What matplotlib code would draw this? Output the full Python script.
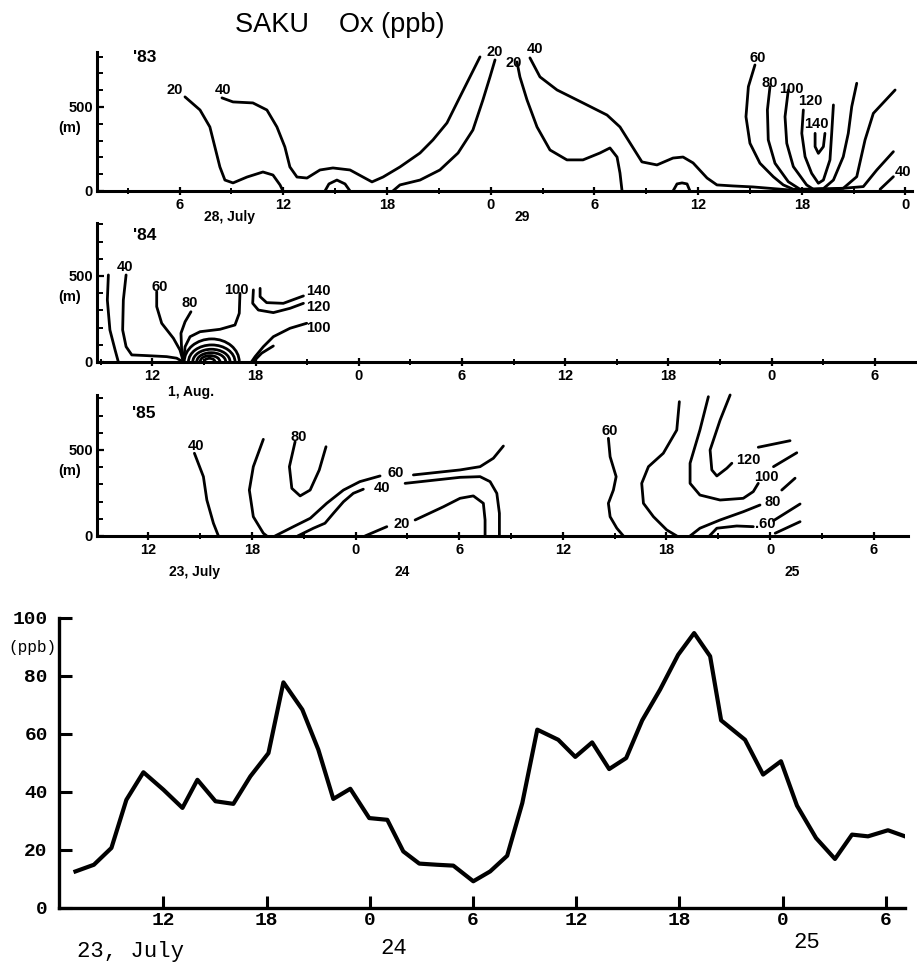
import numpy as np
import matplotlib.pyplot as plt
from matplotlib.patches import Arc
from matplotlib.ticker import FixedLocator, MultipleLocator, FuncFormatter

plt.rcParams['font.family'] = ['Liberation Sans', 'DejaVu Sans']

SANS = 'Liberation Sans'
MONO = 'Liberation Mono'

# ---------------- '83 panel, hours from 28 July 0h, height in m
p83_a_t = [6.31, 7.18, 7.75, 8.04, 8.33, 8.62, 9.09, 9.90, 10.82, 11.40, 11.81, 11.98]
p83_a_z = [560, 482, 381, 262, 143, 65, 48, 83, 113, 95, 36, 0]
p83_b_t = [8.45, 9.09, 10.24, 11.05, 11.63, 12.09, 12.38, 12.79, 13.37, 14.12, 14.87, 15.86,
           16.61, 17.13, 17.77, 18.75, 19.91, 20.66, 21.47, 22.22, 22.80, 23.38]
p83_b_z = [554, 530, 524, 482, 381, 262, 143, 83, 77, 125, 137, 125,
           83, 54, 83, 143, 226, 304, 405, 560, 679, 798]
p83_c_t = [18.34, 18.75, 19.91, 21.06, 22.11, 22.97, 23.55, 23.96, 24.25]
p83_c_z = [0, 36, 65, 125, 226, 363, 542, 679, 780]
p83_d_t = [25.52, 25.69, 26.10, 26.68, 27.43, 28.41, 29.34, 30.32, 30.90, 31.31, 31.48, 31.60]
p83_d_z = [768, 679, 542, 381, 244, 185, 185, 226, 256, 202, 107, 0]
p83_e_t = [26.27, 26.85, 27.84, 29.34, 30.73, 31.48, 32.06, 32.75, 33.62, 34.55, 35.13, 35.71,
           36.52, 37.09, 38.02, 39.18, 41.3]
p83_e_z = [792, 679, 601, 524, 452, 381, 286, 173, 155, 196, 202, 167,
           77, 36, 30, 24, 6]
p83_f_t = [14.41, 14.64, 15.10, 15.57, 15.86]
p83_f_z = [0, 42, 65, 42, 0]
p83_g_t = [34.55, 34.78, 35.07, 35.36, 35.53]
p83_g_z = [0, 42, 48, 42, 0]
p83_60_t = [39.29, 38.91, 38.77, 39.00, 39.58, 40.35, 40.93, 41.51, 43.0, 45.56, 46.34, 47.30]
p83_60_z = [750, 621, 442, 284, 165, 85, 36, 10, 4, 26, 125, 234]
p83_80_t = [40.16, 40.01, 40.06, 40.45, 41.22, 41.90, 44.40, 45.18, 45.66, 46.14, 47.40]
p83_80_z = [621, 482, 304, 165, 55, 10, 16, 85, 304, 462, 601]
p83_100_t = [41.22, 41.03, 41.13, 41.51, 42.28, 42.67, 43.25, 43.83, 44.40, 44.69, 44.89, 45.18]
p83_100_z = [601, 442, 284, 145, 36, 10, 14, 65, 204, 343, 502, 641]
p83_120_t = [42.09, 42.00, 42.19, 42.57, 42.96, 43.25, 43.63, 43.73, 43.83]
p83_120_z = [482, 343, 204, 105, 46, 65, 185, 343, 512]
p83_140_t = [42.77, 42.77, 42.96, 43.25, 43.34]
p83_140_z = [343, 264, 224, 264, 343]
p83_40_t = [46.53, 47.30]
p83_40_z = [10, 85]
lab83_txt = ['20', '40', '20', '20', '40', '60', '80', '100', '120', '140', '40']
lab83_t = [5.73, 8.51, 24.21, 25.31, 26.56, 39.45, 40.12, 41.41, 42.48, 42.82, 47.88]
lab83_z = [601, 601, 829, 764, 845, 790, 641, 605, 537, 397, 111]

# ---------------- '84 panel, hours from 1 Aug 0h
p84_a_t = [9.44, 9.38, 9.53, 9.83, 10.02]
p84_a_z = [506, 360, 186, 70, 0]
p84_b_t = [10.47, 10.31, 10.27, 10.47, 10.80, 11.67, 12.83, 13.41, 13.76]
p84_b_z = [506, 360, 186, 89, 41, 37, 31, 22, 2]
p84_c_t = [12.25, 12.25, 12.54, 13.22, 13.60, 13.80]
p84_c_z = [409, 322, 225, 138, 70, 2]
p84_d_t = [14.24, 13.90, 13.66, 13.70, 13.80]
p84_d_z = [292, 234, 167, 70, 2]
p84_e_t = [17.09, 17.05, 16.80, 15.93, 14.77, 14.19, 13.90, 13.80]
p84_e_z = [399, 283, 215, 190, 176, 147, 89, 2]
p84_f_t = [20.97, 20.00, 19.03, 18.45, 17.97, 17.77]
p84_f_z = [225, 196, 147, 89, 31, 2]
p84_g_t = [19.03, 18.35, 17.87]
p84_g_z = [93, 51, 2]
p84_h_t = [17.87, 17.83, 18.16, 19.03, 20.00, 20.78]
p84_h_z = [419, 341, 302, 287, 312, 341]
p84_i_t = [18.26, 18.26, 18.64, 19.61, 20.78]
p84_i_z = [428, 380, 345, 341, 384]
dome84_t = [15.45, 15.45, 15.43, 15.42, 15.35, 15.32]
dome84_w = [3.20, 2.71, 2.17, 1.69, 1.16, 0.64]
dome84_top = [134, 99, 74, 54, 37, 21]
lab84_txt = ['40', '60', '80', '100', '140', '120', '100']
lab84_t = [10.41, 12.40, 14.19, 16.86, 21.65, 21.65, 21.65]
lab84_z = [554, 434, 341, 419, 415, 322, 196]

# ---------------- '85 panel, hours from 23 July 0h
p85_a_t = [14.67, 15.19, 15.39, 15.77, 16.06]
p85_a_z = [481, 345, 209, 74, 0]
p85_b_t = [18.66, 18.08, 17.85, 18.08, 18.66, 18.86]
p85_b_z = [562, 403, 267, 112, 16, 0]
p85_c_t = [20.50, 20.17, 20.31, 20.79, 21.37, 21.90, 22.29]
p85_c_z = [548, 403, 277, 233, 267, 384, 519]
p85_d_t = [19.34, 20.40, 21.38, 22.33, 23.30, 24.25, 25.42]
p85_d_z = [0, 54, 103, 190, 267, 316, 349]
p85_d2_t = [27.35, 30.05, 31.21, 31.98, 32.56]
p85_d2_z = [355, 384, 403, 452, 523]
p85_e_t = [20.65, 21.56, 22.23, 22.72, 23.30, 23.87, 24.45]
p85_e_z = [0, 45, 74, 132, 199, 248, 272]
p85_e2_t = [26.87, 30.05, 31.21, 31.79, 32.18, 32.33, 32.33]
p85_e2_z = [306, 341, 345, 316, 248, 132, 0]
p85_f_t = [24.55, 25.81]
p85_f_z = [0, 54]
p85_f2_t = [27.45, 29.09, 30.05, 30.82, 31.40, 31.50, 31.50]
p85_f2_z = [93, 170, 219, 233, 190, 93, 0]
p85_g_t = [38.64, 38.74, 39.09, 38.93, 38.64, 38.74, 39.13, 39.51]
p85_g_z = [568, 461, 345, 267, 190, 112, 45, 0]
p85_h_t = [42.75, 42.60, 41.82, 40.96, 40.57, 40.67, 41.25, 42.02, 42.60]
p85_h_z = [781, 616, 481, 403, 306, 190, 112, 35, 0]
p85_i_t = [44.43, 43.94, 43.37, 43.37, 43.94, 45.11, 46.45, 47.03, 47.32]
p85_i_z = [810, 616, 423, 306, 238, 209, 219, 258, 306]
p85_j_t = [45.69, 45.11, 44.53, 44.63, 44.92, 45.50, 45.79]
p85_j_z = [820, 674, 500, 384, 349, 394, 423]
p85_k_t = [43.37, 43.94, 45.11, 46.45, 47.42]
p85_k_z = [0, 45, 93, 141, 180]
p85_l_t = [44.49, 44.92, 46.07, 47.03]
p85_l_z = [0, 45, 58, 54]
p85_m1_t = [47.32, 49.16]
p85_m1_z = [516, 554]
p85_m2_t = [48.2, 49.55]
p85_m2_z = [403, 484]
p85_m3_t = [48.68, 49.45]
p85_m3_z = [267, 336]
p85_m4_t = [48.2, 49.74]
p85_m4_z = [89, 186]
p85_m5_t = [48.3, 49.74]
p85_m5_z = [16, 83]
lab85_txt = ['40', '80', '60', '40', '20', '60', '120', '100', '80', '.60']
lab85_t = [14.77, 20.69, 26.35, 25.52, 26.68, 38.70, 46.75, 47.81, 48.16, 47.71]
lab85_z = [523, 574, 364, 277, 70, 612, 442, 345, 199, 70]

# ---------------- surface Ox, hours from 23 July 0h
t_sfc = [6.89, 7.96, 8.98, 9.85, 10.84, 12.0, 13.11, 13.98, 15.03, 16.07, 17.06, 18.11,
         18.98, 20.08, 21.01, 21.88, 22.87, 23.97, 25.02, 25.95, 26.88, 27.91, 28.86, 30.02,
         31.0, 31.99, 32.87, 33.74, 34.96, 35.95, 36.93, 37.92, 38.91, 39.84, 40.88, 41.93,
         42.86, 43.79, 44.43, 45.82, 46.87, 47.91, 48.84, 49.95, 51.05, 52.04, 52.97, 54.13, 55.12]
ox_sfc = [12.6, 14.9, 20.7, 37.3, 46.8, 40.8, 34.5, 44.2, 36.8, 35.9, 45.4, 53.4,
          77.8, 68.4, 54.6, 37.6, 41.1, 31.0, 30.4, 19.5, 15.3, 14.9, 14.6, 9.2,
          12.6, 18.0, 36.2, 61.5, 58.0, 52.1, 57.1, 47.9, 51.7, 64.7, 75.3, 87.3,
          94.8, 86.8, 64.7, 58.0, 46.0, 50.6, 35.3, 24.1, 16.9, 25.3, 24.7, 26.8, 24.7]


def hour_fmt(v, pos):
    return str(int(round(v)) % 24)


def setup_section(ax, xlim, ylim):
    ax.patch.set_visible(False)
    ax.set_xlim(*xlim)
    ax.set_ylim(*ylim)
    for s in ['top', 'right']:
        ax.spines[s].set_visible(False)
    for s in ['left', 'bottom']:
        ax.spines[s].set_linewidth(2.2)
    ax.xaxis.set_major_locator(MultipleLocator(6))
    ax.xaxis.set_minor_locator(MultipleLocator(3))
    ax.xaxis.set_major_formatter(FuncFormatter(hour_fmt))
    ax.yaxis.set_major_locator(FixedLocator([0, 500]))
    ax.yaxis.set_minor_locator(MultipleLocator(100))
    ax.tick_params(axis='x', which='major', direction='inout', length=6, width=1.6,
                   pad=2, labelsize=10.5)
    ax.tick_params(axis='x', which='minor', direction='inout', length=4, width=1.4)
    ax.tick_params(axis='y', which='major', direction='in', length=5, width=1.6,
                   pad=3, labelsize=10.5)
    ax.tick_params(axis='y', which='minor', direction='in', length=4, width=1.4)
    for lb in ax.get_xticklabels() + ax.get_yticklabels():
        lb.set_fontweight('bold')
    ax.annotate('(m)', xy=(0, 500), xycoords=('axes fraction', 'data'),
                xytext=(-20, -15), textcoords='offset points',
                ha='center', va='center', fontsize=10.5, fontweight='bold')


def draw_lines(ax, lines, labels):
    for t, z in lines:
        ax.plot(t, z, color='black', lw=2.0, solid_capstyle='round',
                solid_joinstyle='round', clip_on=False)
    txt, lt, lz = labels
    for s, x, y in zip(txt, lt, lz):
        ax.text(x, y, s, ha='center', va='center', fontsize=10.5, fontweight='bold',
                clip_on=False)


fig = plt.figure(figsize=(9.17, 9.65), dpi=100)

fig.text(0.371, 0.974, 'SAKU    Ox (ppb)', ha='center', va='center', fontsize=19.5)

# '83
ax1 = fig.add_axes([0.1058, 0.8021, 0.8888, 0.1440])
setup_section(ax1, (1.22, 48.38), (0, 827))
draw_lines(ax1, [(p83_a_t, p83_a_z), (p83_b_t, p83_b_z), (p83_c_t, p83_c_z),
                 (p83_d_t, p83_d_z), (p83_e_t, p83_e_z), (p83_f_t, p83_f_z),
                 (p83_g_t, p83_g_z), (p83_60_t, p83_60_z), (p83_80_t, p83_80_z),
                 (p83_100_t, p83_100_z), (p83_120_t, p83_120_z),
                 (p83_140_t, p83_140_z), (p83_40_t, p83_40_z)],
           (lab83_txt, lab83_t, lab83_z))
ax1.text(0.058, 0.96, "'83", transform=ax1.transAxes, ha='center', va='center',
         fontsize=12.5, fontweight='bold')
ax1.annotate('28, July', xy=(8.9, 0), xytext=(0, -19), textcoords='offset points',
             ha='center', va='center', fontsize=10, fontweight='bold')
ax1.annotate('29', xy=(25.8, 0), xytext=(0, -19), textcoords='offset points',
             ha='center', va='center', fontsize=10, fontweight='bold')

# '84
ax2 = fig.add_axes([0.1058, 0.6249, 0.8942, 0.1440])
setup_section(ax2, (8.78, 56.45), (0, 808))
draw_lines(ax2, [(p84_a_t, p84_a_z), (p84_b_t, p84_b_z), (p84_c_t, p84_c_z),
                 (p84_d_t, p84_d_z), (p84_e_t, p84_e_z), (p84_f_t, p84_f_z),
                 (p84_g_t, p84_g_z), (p84_h_t, p84_h_z), (p84_i_t, p84_i_z)],
           (lab84_txt, lab84_t, lab84_z))
for c, w, h in zip(dome84_t, dome84_w, dome84_top):
    ax2.add_patch(Arc((c, 0), w, 2 * h, theta1=0, theta2=180, color='black', lw=2.0))
ax2.text(0.058, 0.91, "'84", transform=ax2.transAxes, ha='center', va='center',
         fontsize=12.5, fontweight='bold')
ax2.annotate('1, Aug.', xy=(14.24, 0), xytext=(0, -21.5), textcoords='offset points',
             ha='center', va='center', fontsize=10, fontweight='bold')

# '85
ax3 = fig.add_axes([0.1058, 0.4446, 0.8844, 0.1461])
setup_section(ax3, (9.03, 55.99), (0, 820))
draw_lines(ax3, [(p85_a_t, p85_a_z), (p85_b_t, p85_b_z), (p85_c_t, p85_c_z),
                 (p85_d_t, p85_d_z), (p85_d2_t, p85_d2_z), (p85_e_t, p85_e_z),
                 (p85_e2_t, p85_e2_z), (p85_f_t, p85_f_z), (p85_f2_t, p85_f2_z),
                 (p85_g_t, p85_g_z), (p85_h_t, p85_h_z), (p85_i_t, p85_i_z),
                 (p85_j_t, p85_j_z), (p85_k_t, p85_k_z), (p85_l_t, p85_l_z),
                 (p85_m1_t, p85_m1_z), (p85_m2_t, p85_m2_z), (p85_m3_t, p85_m3_z),
                 (p85_m4_t, p85_m4_z), (p85_m5_t, p85_m5_z)],
           (lab85_txt, lab85_t, lab85_z))
ax3.text(0.058, 0.87, "'85", transform=ax3.transAxes, ha='center', va='center',
         fontsize=12.5, fontweight='bold')
for s, x in [('23, July', 14.7), ('24', 26.7), ('25', 49.3)]:
    ax3.annotate(s, xy=(x, 0), xytext=(0, -26), textcoords='offset points',
                 ha='center', va='center', fontsize=10, fontweight='bold')

# surface Ox
ax4 = fig.add_axes([0.0643, 0.0591, 0.9226, 0.3005])
ax4.patch.set_visible(False)
ax4.plot(t_sfc, ox_sfc, color='black', lw=3, solid_joinstyle='round')
ax4.set_xlim(5.93, 55.12)
ax4.set_ylim(0, 100)
for s in ['top', 'right']:
    ax4.spines[s].set_visible(False)
for s in ['left', 'bottom']:
    ax4.spines[s].set_linewidth(2.4)
ax4.xaxis.set_major_formatter(FuncFormatter(hour_fmt))
ax4.set_xticks(np.arange(12, 55, 6))
ax4.yaxis.set_major_locator(MultipleLocator(20))
ax4.tick_params(axis='both', direction='in', length=9, width=2.2, labelsize=14)
ax4.tick_params(axis='x', pad=3)
ax4.tick_params(axis='y', pad=8)
for lb in ax4.get_xticklabels() + ax4.get_yticklabels():
    lb.set_fontfamily(MONO)
    lb.set_fontweight('bold')
fig.text(0.035, 0.3285, '(ppb)', ha='center', va='center', fontsize=11.5, family=MONO)
fig.text(0.142, 0.0135, '23, July', ha='center', va='center', fontsize=16, family=MONO)
fig.text(0.429, 0.0176, '24', ha='center', va='center', fontsize=16, family=MONO)
fig.text(0.880, 0.0238, '25', ha='center', va='center', fontsize=16, family=MONO)

fig.savefig('out.png', dpi=100)
